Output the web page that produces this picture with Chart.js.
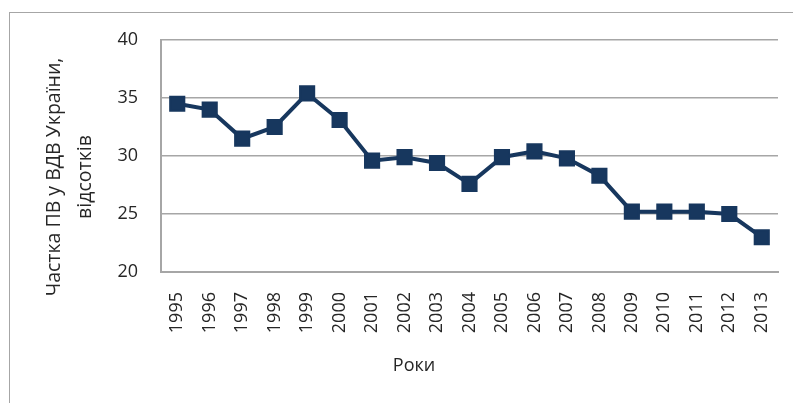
<!DOCTYPE html>
<html>
<head>
<meta charset="utf-8">
<script src="https://cdn.jsdelivr.net/npm/chart.js@4/dist/chart.umd.min.js"></script>
<style>
    html, body { margin: 0; padding: 0; background: #fff; }
    #wrap { position: relative; width: 793px; height: 403px; }
    #frame {
        position: absolute; left: 9px; top: 12px;
        width: 800px; height: 400px;
        border: 1px solid #a6a6a6;
        pointer-events: none;
    }
</style>
</head>
<body>
<div id="wrap">
    <div id="frame"></div>
    <canvas id="chart"></canvas>
</div>
<script>
const YEARS = ['1995', '1996', '1997', '1998', '1999', '2000', '2001', '2002', '2003', '2004',
               '2005', '2006', '2007', '2008', '2009', '2010', '2011', '2012', '2013'];
const SHARE = [34.5, 34.0, 31.5, 32.5, 35.4, 33.1, 29.6, 29.9, 29.4, 27.6,
               29.9, 30.4, 29.8, 28.3, 25.2, 25.2, 25.2, 25.0, 23.0];
const Y_TITLE = ['Частка ПВ у ВДВ України,', 'відсотків'];
const X_TITLE = 'Роки';

const FONT = "'Open Sans', 'DejaVu Sans', sans-serif";
const NAVY = '#17375E';
const TEXT = '#262626';

// Excel puts axis titles relative to the whole chart, not the plot area
const axisTitles = {
    id: 'axisTitles',
    afterDraw(chart) {
        const ctx = chart.ctx;
        ctx.save();
        ctx.fillStyle = TEXT;
        ctx.font = '18px ' + FONT;
        ctx.textAlign = 'center';
        ctx.textBaseline = 'middle';
        ctx.fillText(X_TITLE, 414, 366);

        ctx.font = '19.5px ' + FONT;
        ctx.translate(0, 177);
        ctx.rotate(-Math.PI / 2);
        ctx.fillText(Y_TITLE[0], 0, 54);
        ctx.fillText(Y_TITLE[1], 0, 85);
        ctx.restore();
    }
};

new Chart(document.getElementById('chart'), {
    type: 'line',
    data: {
        labels: YEARS,
        datasets: [{
            data: SHARE,
            borderColor: NAVY,
            backgroundColor: NAVY,
            borderWidth: 4,
            pointStyle: 'rect',
            pointRadius: 10,
            pointBorderWidth: 2,
            pointBackgroundColor: NAVY,
            pointBorderColor: NAVY,
            tension: 0
        }]
    },
    options: {
        responsive: true,
        maintainAspectRatio: false,
        animation: false,
        layout: { padding: { left: 0, right: 15, top: 40, bottom: 0 } },
        plugins: {
            legend: { display: false },
            tooltip: { enabled: false }
        },
        scales: {
            x: {
                offset: true,
                grid: { display: false, drawTicks: false },
                border: { display: true, color: '#a6a6a6', width: 2 },
                ticks: {
                    color: TEXT,
                    font: { family: FONT, size: 18 },
                    minRotation: 90,
                    maxRotation: 90,
                    padding: 20,
                    autoSkip: false
                },
                afterFit: s => {
                    s.height = 131;
                    s.paddingLeft = 0;
                    s.paddingRight = 0;
                }
            },
            y: {
                min: 20,
                max: 40,
                grid: { color: '#a6a6a6', lineWidth: 1.5, drawTicks: false },
                border: { display: true, color: '#a6a6a6', width: 2 },
                ticks: {
                    stepSize: 5,
                    color: TEXT,
                    font: { family: FONT, size: 18 },
                    padding: 23
                },
                afterFit: s => { s.width = 161; }
            }
        }
    },
    plugins: [axisTitles]
});
</script>
</body>
</html>
